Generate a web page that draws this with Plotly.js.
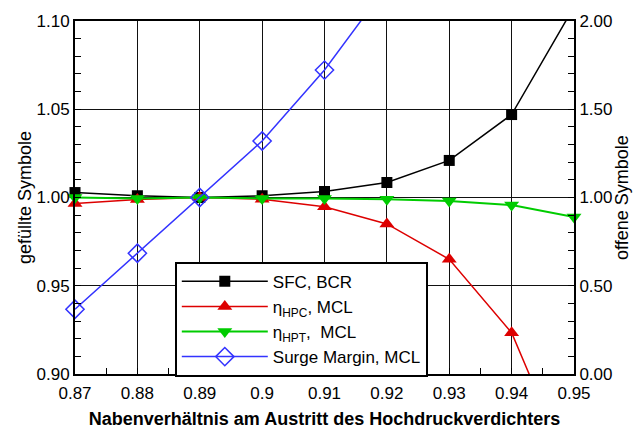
<!DOCTYPE html>
<html><head><meta charset="utf-8">
<script src="https://cdn.plot.ly/plotly-3.0.1.min.js"></script>
<style>body{margin:0;background:#fff;} #chart{width:642px;height:429px;}</style>
</head><body><div id="chart"></div>
<script>
const hubRatio = [0.87, 0.88, 0.89, 0.90, 0.91, 0.92, 0.93, 0.94, 0.95];
const sfcBCR = [1.0028, 1.001, 1.000, 1.001, 1.0034, 1.0085, 1.021, 1.047, 1.108];
const etaHPC = [0.9966, 0.9989, 1.000, 0.999, 0.9948, 0.985, 0.965, 0.9234, 0.84];
const etaHPT = [1.000, 0.9995, 1.000, 0.9995, 0.9995, 0.999, 0.998, 0.9957, 0.989];
const surgeX = [0.87, 0.88, 0.89, 0.90, 0.91, 0.92];
const surgeMargin = [0.367, 0.684, 1.000, 1.32, 1.722, 2.2];
const seriesNames = ['SFC, BCR', '\u03b7<sub>HPC</sub>, MCL', '\u03b7<sub>HPT</sub>,\u00a0 MCL', 'Surge Margin, MCL'];
const xTitle = 'Nabenverhältnis am Austritt des Hochdruckverdichters';
const yTitleLeft = 'gefüllte Symbole';
const yTitleRight = 'offene Symbole';

const FONT = 'Liberation Sans, Arial, sans-serif';
const traces = [
  {x: hubRatio, y: sfcBCR, name: seriesNames[0], mode: 'lines+markers', cliponaxis: false,
   line: {color: '#000000', width: 1.5}, marker: {symbol: 'square', size: 11, color: '#000000'}},
  {x: hubRatio, y: etaHPC, name: seriesNames[1], mode: 'lines+markers', cliponaxis: false,
   line: {color: '#dd0000', width: 1.5}, marker: {symbol: 'triangle-up', size: 13, color: '#dd0000'}},
  {x: hubRatio, y: etaHPT, name: seriesNames[2], mode: 'lines+markers', cliponaxis: false,
   line: {color: '#00cc00', width: 2}, marker: {symbol: 'triangle-down', size: 13, color: '#00cc00'}},
  {x: surgeX, y: surgeMargin, name: seriesNames[3], mode: 'lines+markers', yaxis: 'y2', cliponaxis: false,
   line: {color: '#3333ff', width: 1.5}, marker: {symbol: 'diamond-open', size: 14, color: '#3333ff', line: {width: 1.5, color: '#3333ff'}}}
];
const layout = {
  width: 642, height: 429,
  margin: {l: 75, r: 68, t: 21, b: 55},
  paper_bgcolor: '#ffffff', plot_bgcolor: '#ffffff',
  font: {family: FONT, size: 17, color: '#000'},
  showlegend: true,
  xaxis: {
    range: [0.87, 0.95], tick0: 0.87, dtick: 0.01,
    showgrid: true, gridcolor: '#111', gridwidth: 1, zeroline: false,
    showline: true, linecolor: '#000', linewidth: 2, mirror: true,
    ticks: 'inside', ticklen: 6, tickcolor: '#000', tickwidth: 1, ticklabelstandoff: 3,
    minor: {dtick: 0.005, ticks: 'inside', ticklen: 6, tickcolor: '#000', showgrid: false},
    tickfont: {size: 17},
    title: {text: xTitle, font: {size: 18, weight: 'bold'}, standoff: 11}
  },
  yaxis: {
    range: [0.9, 1.1], tick0: 0.9, dtick: 0.05, tickformat: '.2f',
    showgrid: true, gridcolor: '#111', gridwidth: 1, zeroline: false,
    showline: true, linecolor: '#000', linewidth: 2,
    ticks: 'inside', ticklen: 6, tickcolor: '#000',
    minor: {dtick: 0.01, ticks: 'inside', ticklen: 6, tickcolor: '#000', showgrid: false},
    tickfont: {size: 17},
    title: {text: yTitleLeft, font: {size: 18}, standoff: 0}
  },
  yaxis2: {
    overlaying: 'y', side: 'right',
    range: [0, 2], tick0: 0, dtick: 0.5, tickformat: '.2f',
    showgrid: false, zeroline: false,
    showline: true, linecolor: '#000', linewidth: 2,
    ticks: 'inside', ticklen: 6, tickcolor: '#000',
    minor: {dtick: 0.1, ticks: 'inside', ticklen: 6, tickcolor: '#000', showgrid: false},
    tickfont: {size: 17},
    title: {text: yTitleRight, font: {size: 18}, standoff: 2}
  },
  legend: {
    x: 0.2, y: 0.318, xanchor: 'left', yanchor: 'top',
    bgcolor: '#ffffff', bordercolor: '#000', borderwidth: 2,
    font: {size: 17}, itemwidth: 86, tracegroupgap: 0
  }
};
Plotly.newPlot('chart', traces, layout, {displayModeBar: false, staticPlot: true});
</script>
</body></html>
